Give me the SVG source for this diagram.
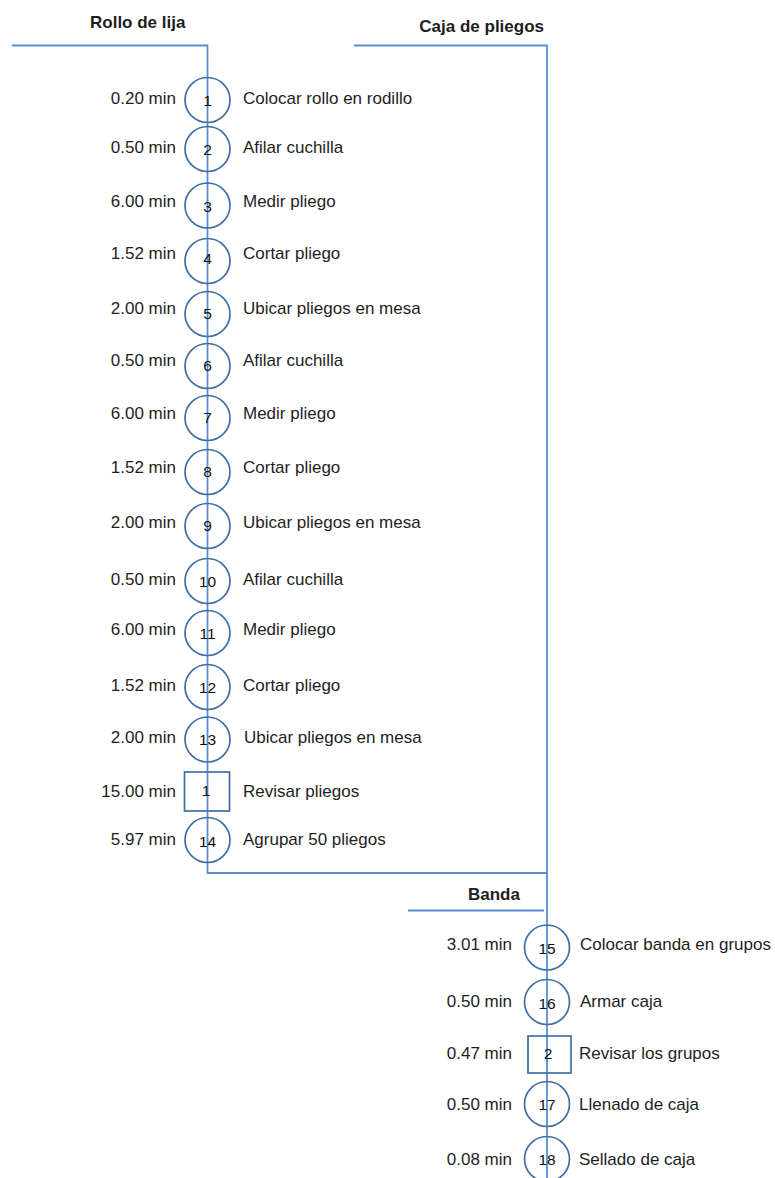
<svg xmlns="http://www.w3.org/2000/svg" width="775" height="1178" viewBox="0 0 775 1178">
  <style>
    .flow { fill: none; stroke: #5A8ED3; stroke-width: 1.8; }
    .op { fill: #ffffff; fill-opacity: 0; stroke: #3F6FA6; stroke-width: 1.7; }
    .num { font-family: "Liberation Sans", Arial, sans-serif; font-size: 15.5px; fill: #111; text-anchor: middle; }
    .time { font-family: "Liberation Sans", Arial, sans-serif; font-size: 17px; fill: #1e1e1e; text-anchor: end; }
    .lbl { font-family: "Liberation Sans", Arial, sans-serif; font-size: 17px; fill: #1e1e1e; }
    .head { font-family: "Liberation Sans", Arial, sans-serif; font-size: 17px; font-weight: bold; fill: #1e1e1e; }
  </style>
  <rect width="775" height="1178" fill="#ffffff"/>

  <!-- material headings -->
  <text class="head" x="90" y="28">Rollo de lija</text>
  <text class="head" x="544" y="32" text-anchor="end">Caja de pliegos</text>
  <text class="head" x="468" y="900">Banda</text>

  <!-- flow lines -->
  <g id="connectors">
    <path class="flow" d="M12,45.5 H207.5 V873 H547"/>
    <path class="flow" d="M354,45.5 H547 V1178"/>
    <path class="flow" d="M408,910.5 H544"/>
  </g>

  <!-- Rollo de lija line -->
  <g id="op1"><circle class="op" cx="207.5" cy="100" r="22.5"/><text class="num" x="207.5" y="106">1</text><text class="time" x="176" y="104">0.20 min</text><text class="lbl" x="243" y="104">Colocar rollo en rodillo</text></g>
  <g id="op2"><circle class="op" cx="207.5" cy="149" r="22.5"/><text class="num" x="207.5" y="155">2</text><text class="time" x="176" y="153">0.50 min</text><text class="lbl" x="243" y="153">Afilar cuchilla</text></g>
  <g id="op3"><circle class="op" cx="207.5" cy="205.5" r="22.5"/><text class="num" x="207.5" y="212">3</text><text class="time" x="176" y="207">6.00 min</text><text class="lbl" x="243" y="207">Medir pliego</text></g>
  <g id="op4"><circle class="op" cx="207.5" cy="261" r="22.5"/><text class="num" x="207.5" y="264">4</text><text class="time" x="176" y="259">1.52 min</text><text class="lbl" x="243" y="259">Cortar pliego</text></g>
  <g id="op5"><circle class="op" cx="207.5" cy="314" r="22.5"/><text class="num" x="207.5" y="319">5</text><text class="time" x="176" y="314">2.00 min</text><text class="lbl" x="243" y="314">Ubicar pliegos en mesa</text></g>
  <g id="op6"><circle class="op" cx="207.5" cy="366" r="22.5"/><text class="num" x="207.5" y="371">6</text><text class="time" x="176" y="366">0.50 min</text><text class="lbl" x="243" y="366">Afilar cuchilla</text></g>
  <g id="op7"><circle class="op" cx="207.5" cy="418" r="22.5"/><text class="num" x="207.5" y="423">7</text><text class="time" x="176" y="419">6.00 min</text><text class="lbl" x="243" y="419">Medir pliego</text></g>
  <g id="op8"><circle class="op" cx="207.5" cy="472" r="22.5"/><text class="num" x="207.5" y="477">8</text><text class="time" x="176" y="473">1.52 min</text><text class="lbl" x="243" y="473">Cortar pliego</text></g>
  <g id="op9"><circle class="op" cx="207.5" cy="526" r="22.5"/><text class="num" x="207.5" y="531">9</text><text class="time" x="176" y="528">2.00 min</text><text class="lbl" x="243" y="528">Ubicar pliegos en mesa</text></g>
  <g id="op10"><circle class="op" cx="207.5" cy="581" r="22.5"/><text class="num" x="207.5" y="587">10</text><text class="time" x="176" y="585">0.50 min</text><text class="lbl" x="243" y="585">Afilar cuchilla</text></g>
  <g id="op11"><circle class="op" cx="207.5" cy="633" r="22.5"/><text class="num" x="207.5" y="639">11</text><text class="time" x="176" y="635">6.00 min</text><text class="lbl" x="243" y="635">Medir pliego</text></g>
  <g id="op12"><circle class="op" cx="207.5" cy="687" r="22.5"/><text class="num" x="207.5" y="693">12</text><text class="time" x="176" y="691">1.52 min</text><text class="lbl" x="243" y="691">Cortar pliego</text></g>
  <g id="op13"><circle class="op" cx="207.5" cy="739.5" r="22.5"/><text class="num" x="207.5" y="745">13</text><text class="time" x="176" y="743">2.00 min</text><text class="lbl" x="244" y="743">Ubicar pliegos en mesa</text></g>
  <g id="insp1"><rect class="op" x="184.5" y="772" width="45" height="39"/><text class="num" x="206" y="796">1</text><text class="time" x="176" y="797">15.00 min</text><text class="lbl" x="243" y="797">Revisar pliegos</text></g>
  <g id="op14"><circle class="op" cx="207.5" cy="840" r="22.5"/><text class="num" x="207.5" y="847">14</text><text class="time" x="176" y="845">5.97 min</text><text class="lbl" x="243" y="845">Agrupar 50 pliegos</text></g>

  <!-- Banda / final line -->
  <g id="op15"><circle class="op" cx="547" cy="947.5" r="22.5"/><text class="num" x="547" y="954">15</text><text class="time" x="512" y="950">3.01 min</text><text class="lbl" x="580" y="950">Colocar banda en grupos</text></g>
  <g id="op16"><circle class="op" cx="547" cy="1002" r="22.5"/><text class="num" x="547" y="1009">16</text><text class="time" x="512" y="1007">0.50 min</text><text class="lbl" x="580" y="1007">Armar caja</text></g>
  <g id="insp2"><rect class="op" x="528" y="1036" width="43" height="37"/><text class="num" x="548" y="1059">2</text><text class="time" x="512" y="1059">0.47 min</text><text class="lbl" x="579" y="1059">Revisar los grupos</text></g>
  <g id="op17"><circle class="op" cx="547" cy="1104" r="22.5"/><text class="num" x="547" y="1110">17</text><text class="time" x="512" y="1110">0.50 min</text><text class="lbl" x="579" y="1110">Llenado de caja</text></g>
  <g id="op18"><circle class="op" cx="547" cy="1159" r="22.5"/><text class="num" x="547" y="1165">18</text><text class="time" x="512" y="1165">0.08 min</text><text class="lbl" x="579" y="1165">Sellado de caja</text></g>
</svg>
